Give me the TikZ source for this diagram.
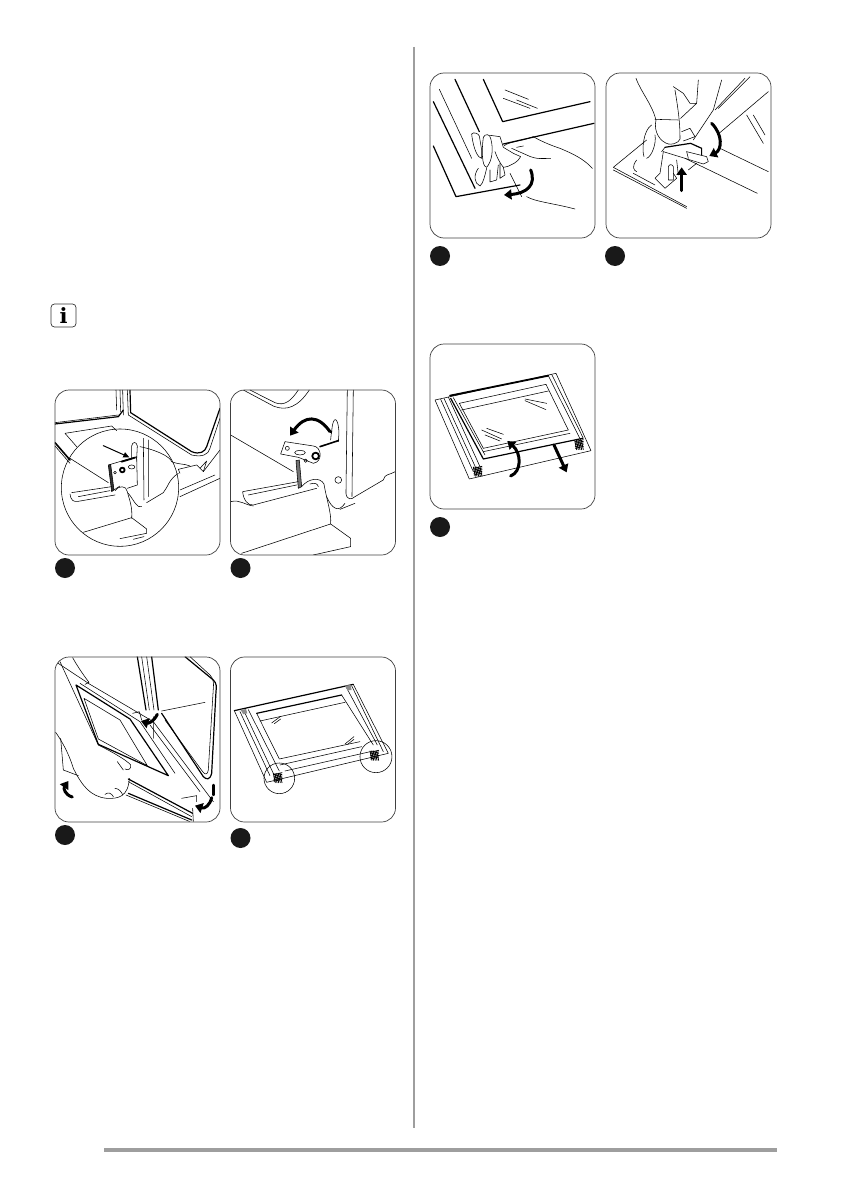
\documentclass[tikz,border=0pt]{standalone}
\usepackage{fontspec}
\usepackage{tikz}
\usetikzlibrary{arrows.meta}
\newfontfamily\infofont{DejaVu Serif}
\definecolor{rulegray}{gray}{0.62}
\tikzset{
  panelbox/.style={rectangle, rounded corners=14pt, draw=black!75, line width=0.7pt, minimum width=165pt, minimum height=165pt, inner sep=0pt},
  stepdot/.style={circle, fill=black!90, minimum size=20pt, inner sep=0pt},
  infobox/.style={rectangle, rounded corners=3.5pt, draw=black!80, line width=0.7pt, minimum width=25pt, minimum height=23pt, inner sep=0pt, font=\infofont\bfseries\fontsize{21}{21}\selectfont},
  zoomed/.style 2 args={shift={(#1,#2)}, x=0.3333pt, y=-0.3333pt},
  art/.style={line width=0.55pt, line join=round, line cap=round},
  heavy/.style={line width=1.2pt, line join=round, line cap=round},
  bigarrow/.style={-{Triangle[width=10pt,length=7.5pt]}, line width=3pt},
  smallarrow/.style={-{Triangle[width=5.5pt,length=6pt]}, line width=1pt}
}
\newcommand{\hingemark}[2]{
\foreach \k in {0,5,...,20}{
\draw[line width=0.8pt] ({#1+\k},{#2})--({#1+\k+6},{#2+28});
\draw[line width=0.8pt] ({#1+2},{#2+\k+4})--({#1+26},{#2+\k-2});}}
\begin{document}
\begin{tikzpicture}[x=1pt,y=-1pt]
\useasboundingbox (0,0) rectangle (840,1190);
\draw[rulegray, line width=1.2pt] (414,47)--(414,1128);
\draw[rulegray, line width=4pt] (104,1150)--(777,1150);
\node[infobox] (info) at (63.5,315.5) {i};
% panel a
\begin{scope}[zoomed={40}{300},art]
\clip[rounded corners=14pt] (45,270) rectangle (540,765);
\draw (228,270)--(230,330) (240,270)--(242,335) (248,270)--(250,345);
\draw[heavy] (270,270)--(272,338)--(455,455) .. controls (480,465) and (495,455) .. (500,440)--(540,325);
\draw (262,270)--(265,345)--(455,465) .. controls (485,472) and (505,465) .. (510,445)--(540,355);
\draw[heavy] (45,372)--(235,350)--(250,330);
\draw (45,368)--(235,345) (75,400)--(215,378)--(230,392) (75,400)--(110,440);
\draw[line width=1.6pt] (45,428)--(90,480);
\draw (45,438)--(90,490) (90,475)--(205,548);
\draw (240,563) circle[radius=176];
\filldraw[fill=black!80] (205,495)--(212,493)--(222,570)--(215,575)--cycle;
\draw (212,493)--(290,470)--(292,555)--(262,565) (222,570)--(240,558);
\draw[line width=1.8pt] (245,485)--(285,473);
\draw[line width=1.8pt] (247,510) circle[radius=7];
\draw (275,501) ellipse[x radius=10,y radius=6] (225,518) circle[radius=4];
\draw (275,478)--(275,438) .. controls (277,424) and (290,424) .. (292,438)--(290,478);
\draw (310,415)--(312,600) (325,420)--(325,590);
\draw[smallarrow] (190,437)--(268,472);
\draw (95,578)--(215,560) (90,582) .. controls (92,600) and (100,607) .. (115,604)--(225,585) (115,590)--(210,572);
\draw (225,572) .. controls (235,556) and (260,556) .. (262,575) .. controls (268,600) and (278,620) .. (275,655);
\draw (130,697)--(275,653)--(320,687)--(320,700)--(240,716) (280,718)--(312,710);
\draw (265,580) .. controls (285,605) and (290,625) .. (305,620) (320,608)--(370,578) .. controls (385,560) and (385,540) .. (415,520);
\draw (420,520)--(415,508)--(470,495)--(490,515)--(540,450);
\draw (480,505)--(500,483)--(490,515) (420,590)--(540,535) (420,570)--(525,525);
\draw (300,440) .. controls (350,450) and (390,470) .. (395,485) .. controls (420,495) and (430,490) .. (450,498);
\end{scope}
% panel b
\begin{scope}[zoomed={40}{300},art]
\clip[rounded corners=14pt] (572,270) rectangle (1066,765);
\draw (610,270)--(700,318) .. controls (740,335) and (775,320) .. (808,270) (630,270)--(705,308) .. controls (735,320) and (755,300) .. (775,270);
\draw (922,270)--(918,580) .. controls (920,600) and (935,600) .. (945,590)--(1030,540) (940,270)--(936,590);
\draw (572,405)--(760,515) (1030,540) .. controls (1035,520) and (1050,525) .. (1066,515);
\draw (875,400) .. controls (877,345) and (895,345) .. (897,400)--(895,425) (875,390)--(872,420);
\draw[line width=1.6pt] (840,440)--(895,422);
\draw (735,425)--(820,438) .. controls (845,440) and (850,485) .. (820,490)--(775,472)--(722,462)--cycle;
\draw (780,458) ellipse[x radius=16,y radius=7] (742,445) circle[radius=6];
\draw[line width=1.8pt] (827,468) circle[radius=10];
\draw (797,482) circle[radius=5];
\filldraw[fill=black!55] (768,482)--(778,480)--(785,560)--(775,565)--cycle;
\draw (785,560) .. controls (805,535) and (840,530) .. (852,552) .. controls (860,600) and (875,640) .. (872,672);
\draw (810,552) .. controls (825,548) and (832,550) .. (835,560) (895,540) circle[radius=10];
\draw (608,575)--(775,545) (608,575) .. controls (610,600) and (625,618) .. (640,615)--(830,565) (625,585)--(770,555);
\draw (572,605) .. controls (600,598) and (615,615) .. (640,618) (860,590) .. controls (875,625) and (895,640) .. (915,610);
\draw (605,760)--(872,672)--(932,715)--(932,740)--(820,765) (900,628)--(945,610);
\draw[bigarrow] (870,395) .. controls (835,345) and (795,345) .. (750,407);
\end{scope}
% panel c
\begin{scope}[zoomed={40}{645},art]
\clip[rounded corners=14pt] (45,35) rectangle (540,530);
\draw[heavy] (292,35)--(318,195) (335,35)--(355,195);
\draw (305,35)--(328,195) (320,35)--(342,195);
\draw[heavy] (435,35)--(520,105) .. controls (530,115) and (530,125) .. (528,140)--(515,385) .. controls (510,405) and (500,405) .. (490,395)--(365,205);
\draw (450,35)--(510,90) .. controls (520,100) and (522,115) .. (520,130)--(505,375) .. controls (503,390) and (495,390) .. (488,380)--(375,225);
\draw (365,198)--(495,172) (340,215)--(340,280);
\draw (47,50)--(150,118)--(340,230)--(520,470);
\draw (60,50)--(175,300) (98,38) .. controls (110,60) and (130,90) .. (147,112)--(135,118);
\draw[heavy] (108,120)--(270,222)--(385,392)--(175,298)--cycle;
\draw (120,115)--(300,230)--(405,385);
\draw (132,160)--(240,225)--(322,362)--(175,282)--cycle;
\draw (330,240)--(480,440);
\draw (47,262) .. controls (60,280) and (85,320) .. (100,370) .. controls (125,420) and (150,455) .. (200,460) .. controls (235,462) and (265,455) .. (268,400) (175,300) .. controls (215,320) and (260,345) .. (272,360) .. controls (275,370) and (265,378) .. (255,372);
\draw (62,280)--(70,375)--(115,392) (195,448) .. controls (205,440) and (215,445) .. (220,455) (225,430) .. controls (235,430) and (245,440) .. (248,450) (232,350)--(250,375);
\draw[heavy] (265,402)--(458,505);
\draw (265,410)--(455,515);
\draw[heavy] (265,445)--(455,525);
\draw (258,450)--(450,530) (458,490)--(460,530);
\draw (278,205)--(298,200)--(305,225) (425,460)--(470,452)--(470,470);
\draw[bigarrow] (352,208) .. controls (340,232) and (325,235) .. (303,228);
\draw[bigarrow] (97,456) .. controls (75,450) and (70,430) .. (85,408);
\draw[line width=2.4pt] (520,420)--(520,450);
\draw[bigarrow] (515,458) .. controls (510,480) and (495,492) .. (465,482);
\end{scope}
% panel d
\begin{scope}[zoomed={40}{645},art]
\clip[rounded corners=14pt] (572,35) rectangle (1066,530);
\draw (583,197)--(680,412)--(1045,325)--(940,118);
\draw[heavy] (583,197)--(940,118);
\draw (600,200)--(690,392) (612,198)--(700,385) (625,194)--(718,378);
\draw (918,125)--(1012,300) (935,122)--(1030,320);
\draw[heavy] (650,205)--(905,150);
\draw (650,205)--(718,342)--(960,290) (905,150)--(1000,300) (660,228)--(915,172) (720,360)--(965,305) (735,378)--(1000,318);
\draw (695,234)--(722,214) (703,236)--(722,222) (915,297)--(942,275) (923,298)--(942,283);
\draw (718,400) circle[radius=46] (1008,335) circle[radius=48];
\hingemark{700}{385}
\hingemark{990}{318}
\fill[black!45] (602,195)--(618,192)--(622,205)--(610,208)--cycle (915,122)--(932,120)--(935,135)--(922,135)--cycle;
\end{scope}
% panel e
\begin{scope}[zoomed={420}{60},art]
\clip[rounded corners=14pt] (30,40) rectangle (525,535);
\draw[heavy] (105,58)--(178,215);
\draw (58,88)--(155,295);
\draw[heavy] (40,125)--(165,385);
\draw[heavy] (40,258)--(108,410)--(300,375);
\draw[heavy] (190,58)--(248,185)--(510,125);
\draw[heavy] (250,252)--(522,190);
\draw (255,90)--(325,118) (250,115)--(330,145) (290,120)--(352,145);
\draw (155,222) .. controls (160,215) and (175,220) .. (178,228)--(185,270)--(185,295) .. controls (175,295) and (160,270) .. (155,222);
\draw (190,232) .. controls (195,220) and (210,222) .. (212,235) .. controls (222,270) and (215,305) .. (200,322) .. controls (185,320) and (185,270) .. (190,232);
\draw (210,226)--(240,230)--(250,262)--(280,280)--(302,290) .. controls (295,305) and (270,320) .. (250,322) .. controls (240,310) and (230,290) .. (225,275);
\draw (175,325) .. controls (160,345) and (162,370) .. (180,378) .. controls (190,370) and (195,345) .. (200,325);
\draw (210,330)--(210,366)--(230,360)--(235,315) (240,310)--(240,355)--(255,345)--(250,322);
\draw (252,258) .. controls (265,245) and (300,245) .. (340,230) .. controls (375,250) and (405,260) .. (420,265) .. controls (455,280) and (490,295) .. (517,325);
\draw (275,265)--(320,285) .. controls (350,300) and (370,295) .. (392,295) (310,258)--(290,262) (270,340)--(305,410);
\draw (320,410) .. controls (345,425) and (400,430) .. (465,447);
\draw[bigarrow] (332,330) .. controls (350,375) and (320,400) .. (252,405);
\end{scope}
% panel f
\begin{scope}[zoomed={420}{60},art]
\clip[rounded corners=14pt] (557,40) rectangle (1051,535);
\draw (580,322)--(800,440) (580,330)--(800,445) (580,322)--(680,240);
\draw (795,295)--(1012,400) (900,265)--(1045,335);
\draw (895,222)--(1045,95) (885,150)--(975,55) (895,145)--(990,50) (905,60)--(880,150)--(820,240);
\draw (980,165)--(1030,250) (1000,165)--(1035,225);
\draw (648,55) .. controls (665,100) and (695,130) .. (708,180);
\draw (708,180) .. controls (700,215) and (720,245) .. (745,252) .. controls (770,255) and (785,240) .. (780,228) .. controls (780,190) and (775,150) .. (765,90);
\draw (760,80)--(790,100)--(810,130)--(830,130)--(835,60) (830,130)--(782,175) (705,178)--(775,180);
\draw (785,215)--(810,205)--(825,230)--(790,243);
\draw (695,195) .. controls (670,210) and (665,270) .. (672,290) (705,225) .. controls (710,250) and (695,290) .. (680,295);
\draw[heavy] (735,262)--(812,250)--(845,265)--(845,285);
\draw (735,262)--(725,275);
\draw (800,275)--(860,290)--(865,305)--(850,312)--(730,275);
\draw (800,275)--(805,295) (730,275)--(720,340)--(705,355)--(735,385)--(770,355)--(760,340);
\draw (745,360)--(745,320) .. controls (748,312) and (757,312) .. (760,320)--(760,360)--(745,360) (770,300)--(775,345) (830,310)--(805,330);
\draw (640,340)--(705,375) (650,300) .. controls (635,320) and (640,330) .. (650,335);
\draw[bigarrow] (785,392)--(785,322);
\draw[bigarrow] (875,190) .. controls (910,225) and (905,270) .. (868,288);
\end{scope}
% panel g
\begin{scope}[zoomed={420}{335},art]
\clip[rounded corners=14pt] (30,28) rectangle (525,522);
\draw (45,195)--(408,115)--(513,347)--(148,432)--cycle;
\draw[line width=1.8pt] (90,182)--(385,122);
\draw (62,193)--(160,410) (72,190)--(168,400) (85,186)--(180,395) (395,118)--(490,310) (385,122)--(482,315);
\draw[heavy] (92,190)--(190,372)--(488,310);
\draw (100,188)--(195,360);
\draw (118,205)--(378,148)--(445,285)--(190,340)--cycle;
\draw (125,225)--(385,168) (190,350)--(450,295);
\draw (315,192)--(380,205) (315,197)--(378,224) (185,285)--(245,312) (200,280)--(250,298) (195,300)--(240,318);
\hingemark{160}{396}
\hingemark{464}{316}
\draw[bigarrow] (272,423) .. controls (305,410) and (305,355) .. (262,318);
\draw[bigarrow] (402,330)--(440,412);
\end{scope}
\foreach \name/\cx/\cy in {panela/137.5/472.5,panelb/313/472.5,panelc/137.5/739.5,paneld/313/739.5,panele/512.5/155.5,panelf/688.5/155.5,panelg/512.5/426.5}{
\node[panelbox] (\name) at (\cx,\cy) {};}
\foreach \name/\cx/\cy in {dota/65/568,dotb/240.5/568,dotc/65/835,dotd/240.5/838,dote/440/256,dotf/615/256,dotg/440/527}{
\node[stepdot] (\name) at (\cx,\cy) {};}
\end{tikzpicture}
\end{document}
